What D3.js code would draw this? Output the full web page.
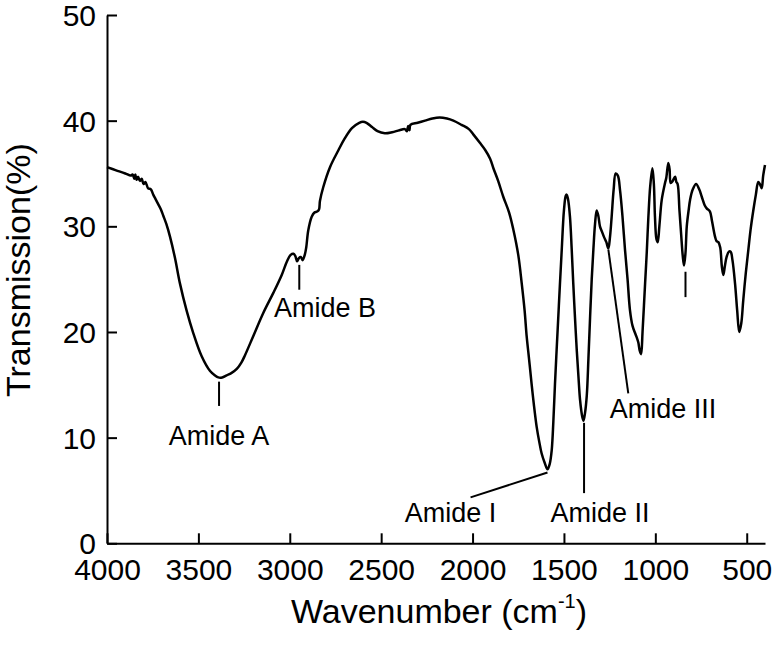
<!DOCTYPE html>
<html>
<head>
<meta charset="utf-8">
<script src="https://cdn.jsdelivr.net/npm/d3@7"></script>
<style>
  html, body { margin: 0; padding: 0; background: #fff; }
  svg text { font-family: "Liberation Sans", Arial, sans-serif; fill: #000; }
</style>
</head>
<body>
<svg id="chart" width="774" height="649"></svg>
<script>
// ---------- data ----------
const wavenumber = [
  4000,3950,3900,3870,3860,3850,3845,3838,3830,3820,3810,3800,3790,3775,3760,3747,3735,3720,3705,3692,
  3675,3655,3628,3601,3564,3528,3482,3436,3410,3391,3370,3345,3320,3290,3265,3245,3200,3145,3090,3044,
  3015,2995,2980,2970,2960,2950,2940,2930,2918,2910,2899,2880,2865,2850,2840,2835,2817,2780,2734,2700,
  2660,2620,2600,2580,2550,2520,2480,2440,2400,2370,2360,2352,2345,2340,2300,2260,2220,2180,2140,2105,
  2060,2020,1996,1960,1930,1904,1886,1860,1832,1800,1777,1750,1731,1715,1704,1690,1677,1665,1649,1635,
  1622,1605,1590,1578,1567,1558,1549,1540,1531,1522,1512,1500,1490,1485,1478,1467,1458,1449,1440,1430,
  1420,1412,1400,1393,1385,1375,1366,1357,1348,1339,1330,1321,1312,1303,1292,1281,1268,1257,1248,1239,
  1228,1217,1205,1193,1180,1166,1152,1139,1125,1111,1100,1093,1085,1078,1070,1056,1047,1038,1028,1016,
  1008,1002,994,987,978,965,947,940,929,922,916,905,892,885,878,868,859,850,843,835,
  828,818,810,795,777,760,746,730,719,701,690,673,665,655,645,636,628,619,610,598,
  588,578,564,552,541,530,519,505,491,478,464,450,437,428,418,410,400
];
const transmission = [
  35.6,35.3,35.0,34.8,34.9,34.5,34.9,34.4,34.7,34.3,34.5,34.0,34.2,33.6,33.5,33.0,32.6,32.1,31.6,31.0,
  30.2,29.0,27.0,24.6,22.0,19.9,17.7,16.3,15.9,15.7,15.7,15.9,16.1,16.5,17.1,17.8,19.6,21.8,23.7,25.4,
  26.7,27.3,27.4,27.2,26.7,27.0,27.1,26.8,27.3,28.0,29.6,30.9,31.3,31.4,31.6,32.4,33.7,35.6,37.2,38.3,
  39.3,39.8,39.9,39.8,39.4,39.0,38.8,38.9,39.1,39.2,39.0,39.5,39.1,39.6,39.8,40.0,40.2,40.3,40.2,40.0,
  39.6,39.2,38.7,37.9,37.2,36.4,35.5,34.3,32.8,31.3,29.7,27.3,24.6,22.0,19.6,17.3,15.1,13.2,11.0,9.6,
  8.5,7.6,7.0,7.5,8.8,11.5,15.1,18.3,21.4,24.5,27.8,31.5,32.9,33.0,32.6,30.9,28.0,24.6,21.5,18.3,
  15.6,13.6,12.0,11.6,12.3,14.0,17.5,21.4,25.0,27.8,30.2,31.5,31.0,30.0,29.5,29.0,28.5,27.9,29.0,30.9,
  33.5,35.0,34.8,33.4,31.0,27.8,25.0,22.1,20.6,19.9,19.4,19.0,18.2,17.9,20.0,24.6,27.5,30.9,33.8,35.5,
  34.0,30.9,28.8,28.5,30.0,32.5,34.1,34.6,36.0,35.4,34.1,34.3,34.7,34.2,34.0,31.5,29.3,27.2,26.3,27.5,
  30.0,31.5,32.5,33.5,34.0,33.5,32.8,32.0,31.7,31.4,30.5,29.0,28.6,28.5,28.0,26.2,25.4,26.3,27.1,27.6,
  27.6,26.8,24.6,22.0,20.0,20.8,23.0,25.6,27.8,29.8,31.5,33.0,34.2,34.0,33.6,34.8,35.8
];
const xTickValues = [4000, 3500, 3000, 2500, 2000, 1500, 1000, 500];
const yTickValues = [0, 10, 20, 30, 40, 50];

// annotation anchors in data units (wavenumber, %)
const annotationLabels = ["Amide A", "Amide B", "Amide I", "Amide II", "Amide III", ""];
const annotationLineFrom = [[3387, 15.3], [2948, 26.35], [1590, 6.7], [1390, 11.4], [1257, 27.8], [835, 25.7]];
const annotationLineTo   = [[3387, 13.0], [2948, 24.0], [2011, 4.35], [1390, 4.75], [1148, 14.2], [835, 23.3]];
const annotationText     = [[3387, 9.3], [2807, 21.45], [2121, 2.04], [1303, 2.04], [958, 11.86], null];

// ---------- drawing ----------
const svg = d3.select("#chart");
const x = d3.scaleLinear().domain([4000, 400]).range([107, 765]);
const y = d3.scaleLinear().domain([0, 50]).range([543.3, 15]);

// axes
const xAxis = d3.axisBottom(x).tickValues(xTickValues).tickSizeInner(-10).tickSizeOuter(0).tickFormat(d3.format("d"));
const gx = svg.append("g").attr("transform", `translate(0,${y(0)})`).call(xAxis);
gx.selectAll("text").attr("y", 36.7).attr("dy", null).style("font-size", "30px");

const yAxis = d3.axisLeft(y).tickValues(yTickValues).tickSizeInner(-10).tickSizeOuter(0).tickFormat(d3.format("d"));
const gy = svg.append("g").attr("transform", `translate(${x(4000)},0)`).call(yAxis);
gy.selectAll("text").attr("x", -11).attr("dy", "0.35em").style("font-size", "30px");

[gx, gy].forEach(g => {
  g.select(".domain").attr("stroke", "#000").attr("stroke-width", 2);
  g.selectAll(".tick line").attr("stroke", "#000").attr("stroke-width", 2);
  g.attr("font-family", null).attr("font-size", null);
});

// spectrum
const pts = wavenumber.map((w, i) => [w, transmission[i]]);
const line = d3.line().x(d => x(d[0])).y(d => y(d[1])).curve(d3.curveCatmullRom.alpha(0.5));
svg.append("path").datum(pts)
  .attr("d", line)
  .attr("fill", "none")
  .attr("stroke", "#000")
  .attr("stroke-width", 2.5)
  .attr("stroke-linejoin", "round");

// annotations
annotationLabels.forEach((lab, i) => {
  const a = annotationLineFrom[i], b = annotationLineTo[i];
  svg.append("line")
    .attr("x1", x(a[0])).attr("y1", y(a[1]))
    .attr("x2", x(b[0])).attr("y2", y(b[1]))
    .attr("stroke", "#000").attr("stroke-width", 2);
  if (annotationText[i]) {
    svg.append("text")
      .attr("x", x(annotationText[i][0])).attr("y", y(annotationText[i][1]))
      .attr("text-anchor", "middle")
      .style("font-size", "27px")
      .text(lab);
  }
});

// axis titles
const xt = svg.append("text")
  .attr("x", 439).attr("y", 623)
  .attr("text-anchor", "middle")
  .style("font-size", "34px");
xt.append("tspan").text("Wavenumber (cm");
xt.append("tspan").attr("dy", -15).style("font-size", "20px").text("-1");
xt.append("tspan").attr("dy", 15).text(")");

svg.append("text")
  .attr("transform", "translate(30,397) rotate(-90)")
  .attr("text-anchor", "start")
  .style("font-size", "34px")
  .text("Transmission(%)");
</script>
</body>
</html>
